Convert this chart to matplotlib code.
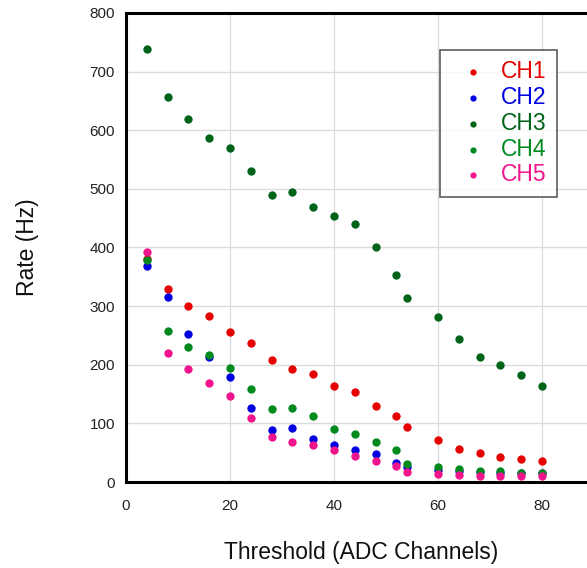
import numpy as np
import matplotlib.pyplot as plt

plt.rcParams['font.family'] = ['Liberation Sans', 'DejaVu Sans']

# Threshold (ADC channels)
threshold = [4, 8, 12, 16, 20, 24, 28, 32, 36, 40, 44, 48, 52, 54, 60, 64, 68, 72, 76, 80]

# Rates (Hz) per channel
ch1 = [380, 330, 301, 284, 256, 237, 208, 193, 185, 164, 153, 130, 113, 94, 72, 57, 49, 43, 39, 35]
ch2 = [369, 316, 253, 213, 179, 126, 89, 92, 73, 63, 55, 47, 33, 26, 20, 18, 17, 16, 16, 16]
ch3 = [738, 657, 620, 586, 570, 531, 489, 494, 469, 453, 440, 401, 353, 314, 281, 244, 213, 199, 182, 164]
ch4 = [378, 258, 231, 216, 195, 159, 125, 126, 113, 90, 82, 68, 55, 31, 25, 22, 19, 18, 16, 15]
ch5 = [392, 220, 192, 169, 146, 110, 76, 69, 63, 54, 44, 35, 27, 17, 14, 12, 11, 11, 10, 10]

labels = ['CH1', 'CH2', 'CH3', 'CH4', 'CH5']
colors = ['#e60000', '#0000e0', '#006418', '#00891c', '#f0158c']
series = [ch1, ch2, ch3, ch4, ch5]

fig = plt.figure(figsize=(5.87, 5.68), dpi=100)
# axes runs past the right edge of the figure, like the original crop
ax = fig.add_axes([126/587, 86/568, 520/587, 469/568])

for y, c, lab in zip(series, colors, labels):
    ax.scatter(threshold, y, s=36, color=c, label=lab, zorder=3, linewidths=0)

ax.set_xlim(0, 100)
ax.set_ylim(0, 800)
ax.set_xticks([0, 20, 40, 60, 80])
ax.set_yticks(np.arange(0, 801, 100))
ax.grid(True, color='#dcdcdc', linewidth=1.0)
ax.set_axisbelow(True)
ax.tick_params(length=0, labelsize=11, colors='#222222')
ax.tick_params(axis='x', pad=12)
ax.tick_params(axis='y', pad=8)

for s in ['left', 'bottom', 'top']:
    ax.spines[s].set_linewidth(2.2)
    ax.spines[s].set_color('black')
ax.spines['right'].set_visible(False)

ax.set_xlabel('Threshold (ADC Channels)', fontsize=16.5, color='#111111')
ax.set_ylabel('Rate (Hz)', fontsize=16.5, color='#111111')
ax.xaxis.set_label_coords(0.452, -0.126)
ax.yaxis.set_label_coords(-0.167, 0.5)

leg = ax.legend(loc='upper left', bbox_to_anchor=(0.604, 0.921), borderaxespad=0,
                fontsize=16.5, frameon=True, fancybox=False, handletextpad=0.2,
                labelspacing=0.12, markerscale=0.75, borderpad=0.45, handlelength=2.0)
leg.get_frame().set_edgecolor('#333333')
leg.get_frame().set_linewidth(1.2)
for t, c in zip(leg.get_texts(), colors):
    t.set_color(c)

fig.savefig('out.png', dpi=100)
